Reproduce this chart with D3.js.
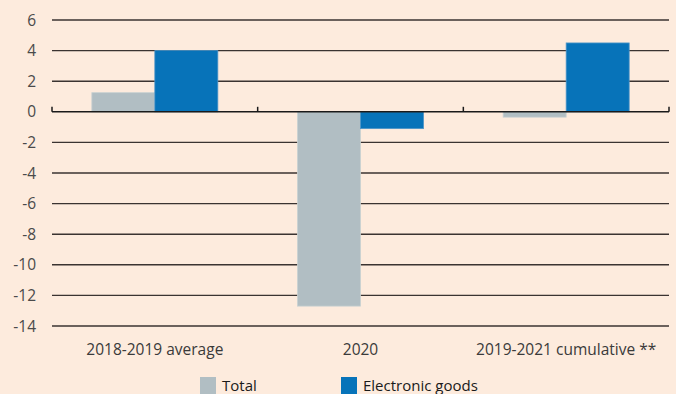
<!DOCTYPE html>
<html><head><meta charset="utf-8">
<script src="https://cdn.jsdelivr.net/npm/d3@7"></script>
<style>html,body{margin:0;padding:0;background:#fdebdd;}svg{display:block;}</style>
</head><body>
<script>
const categories = ["2018-2019 average", "2020", "2019-2021 cumulative **"];
const seriesNames = ["Total", "Electronic goods"];
const totalValues = [1.25, -12.7, -0.35];
const electronicValues = [4.0, -1.1, 4.5];
const yTicks = [6, 4, 2, 0, -2, -4, -6, -8, -10, -12, -14];
const colors = ["#b1bec3", "#0773b9"];

const W = 676, H = 394;
const m = {left: 52, right: 7, top: 20, bottom: 68};
const svg = d3.select("body").append("svg").attr("width", W).attr("height", H);
svg.append("rect").attr("width", W).attr("height", H).attr("fill", "#fdebdd");

const x = d3.scaleBand().domain(categories).range([m.left, W - m.right]).paddingInner(0).paddingOuter(0);
const y = d3.scaleLinear().domain([-14, 6]).range([H - m.bottom, m.top]);
const x1 = d3.scaleBand().domain(seriesNames).range([(x.bandwidth() - 126) / 2, (x.bandwidth() + 126) / 2]);

const font = "'Open Sans', 'Noto Sans', sans-serif";

// gridlines
svg.append("g").selectAll("line").data(yTicks.filter(d => d !== 0)).join("line")
  .attr("x1", m.left).attr("x2", W - m.right)
  .attr("y1", d => y(d)).attr("y2", d => y(d))
  .attr("stroke", "#3a3331").attr("stroke-width", 1.4);

// y labels
svg.append("g").selectAll("text").data(yTicks).join("text")
  .attr("x", 36).attr("y", d => y(d)).attr("dy", "0.36em")
  .attr("text-anchor", "end").attr("font-family", font).attr("font-size", 15.5)
  .attr("fill", "#4a4a4a").text(d => d);

// bars
const data = categories.map((c, i) => ({c, vals: [totalValues[i], electronicValues[i]]}));
const g = svg.append("g").selectAll("g").data(data).join("g")
  .attr("transform", d => `translate(${x(d.c)},0)`);
g.selectAll("rect").data(d => d.vals.map((v, j) => ({v, s: seriesNames[j], j}))).join("rect")
  .attr("x", d => x1(d.s)).attr("width", x1.bandwidth())
  .attr("y", d => y(Math.max(0, d.v))).attr("height", d => Math.abs(y(d.v) - y(0)))
  .attr("fill", d => colors[d.j]).attr("stroke", d => d.j === 0 ? "#c9d1d2" : "#4d95c8").attr("stroke-width", 0.8);

// zero axis
svg.append("line").attr("x1", m.left).attr("x2", W - m.right)
  .attr("y1", y(0)).attr("y2", y(0)).attr("stroke", "#1a1a1a").attr("stroke-width", 1.5);
const tickPos = categories.map(c => x(c)).concat([W - m.right]);
svg.append("g").selectAll("line").data(tickPos).join("line")
  .attr("x1", d => d).attr("x2", d => d).attr("y1", y(0)).attr("y2", y(0) - 5)
  .attr("stroke", "#1a1a1a").attr("stroke-width", 1.5);

// category labels
svg.append("g").selectAll("text").data(categories).join("text")
  .attr("x", d => x(d) + x.bandwidth() / 2).attr("y", 355)
  .attr("text-anchor", "middle").attr("font-family", font).attr("font-size", 15.5)
  .attr("fill", "#3a3a3a").text(d => d);

// legend
const legX = [200, 341];
const lg = svg.append("g").selectAll("g").data(seriesNames).join("g")
  .attr("transform", (d, i) => `translate(${legX[i]},377)`);
lg.append("rect").attr("width", 16).attr("height", 17).attr("fill", (d, i) => colors[i]);
lg.append("text").attr("x", 22).attr("y", 14).attr("font-family", font).attr("font-size", 15)
  .attr("fill", "#1a1a1a").text(d => d);
</script>
</body></html>
